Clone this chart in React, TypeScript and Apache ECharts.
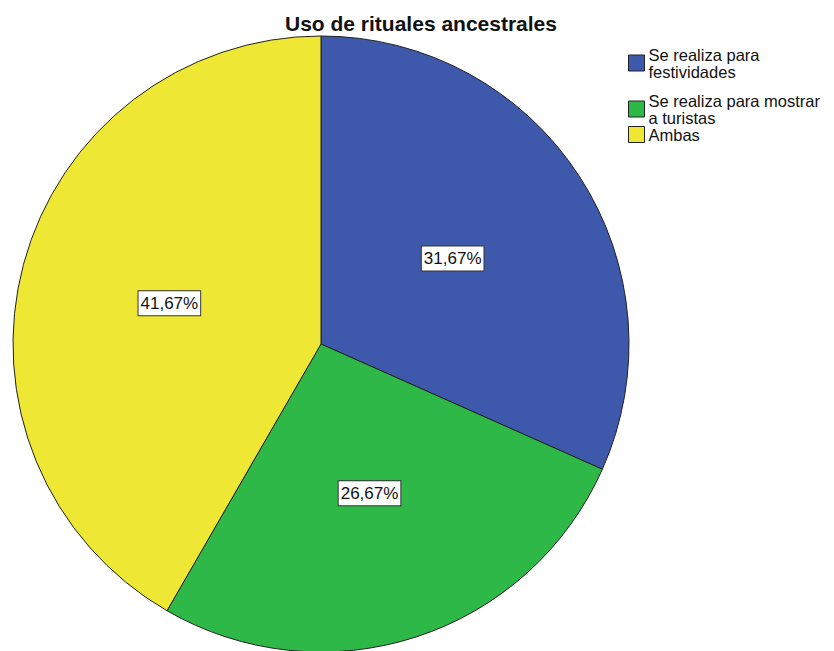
import React, { useEffect, useRef } from "react";
import * as echarts from "echarts";

const categories = ["Se realiza para\nfestividades", "Se realiza para mostrar\na turistas", "Ambas"];
const values = [31.67, 26.67, 41.67];
const colors = ["#3E58AC", "#2EB848", "#EEE834"];
const titleText = "Uso de rituales ancestrales";
const legendTops = [46, 92, 126];

export default function App() {
  const ref = useRef<HTMLDivElement>(null);
  useEffect(() => {
    if (!ref.current) return;
    const chart = echarts.init(ref.current, undefined, { renderer: "svg" });
    chart.setOption({
      animation: false,
      backgroundColor: "#ffffff",
      title: {
        text: titleText,
        left: 421,
        textAlign: "center",
        top: 13,
        padding: 0,
        textStyle: { fontFamily: "Liberation Sans, Arial", fontSize: 21, fontWeight: "bold", color: "#111" },
      },
      legend: categories.map((c, i) => ({
        orient: "vertical",
        left: 628,
        top: legendTops[i],
        padding: 0,
        itemWidth: 16,
        itemHeight: 16,
        icon: "rect",
        selectedMode: false,
        itemStyle: { borderColor: "#222", borderWidth: 1 },
        textStyle: { fontFamily: "Liberation Sans, Arial", fontSize: 16.5, lineHeight: 17, color: "#111", padding: [0, 0, 0, -1] },
        data: [c],
      })),
      series: [
        {
          type: "pie",
          center: [321, 344],
          radius: [0, 308],
          startAngle: 90,
          clockwise: true,
          itemStyle: { borderColor: "#222", borderWidth: 1 },
          label: {
            position: "inside",
            formatter: (p: any) => p.value.toFixed(2).replace(".", ",") + "%",
            fontFamily: "Liberation Sans, Arial",
            fontSize: 17,
            color: "#111",
            backgroundColor: "#fff",
            borderColor: "#333",
            borderWidth: 1,
            padding: [4, 2, 3, 2],
          },
          labelLine: { show: false },
          emphasis: { disabled: true },
          data: categories.map((c, i) => ({ name: c, value: values[i], itemStyle: { color: colors[i] } })),
        },
      ],
    });
    return () => chart.dispose();
  }, []);
  return <div ref={ref} style={{ width: 834, height: 651, position: "absolute", left: 0, top: 0 }} />;
}
